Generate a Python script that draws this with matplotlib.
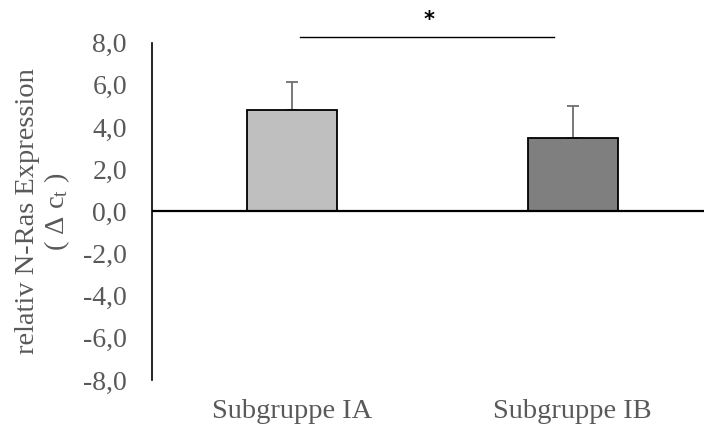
import matplotlib
matplotlib.use("Agg")
import matplotlib.pyplot as plt
import numpy as np

plt.rcParams['font.family'] = ['Liberation Serif', 'DejaVu Serif']
plt.rcParams['mathtext.fontset'] = 'custom'
plt.rcParams['mathtext.rm'] = 'Liberation Serif'
plt.rcParams['mathtext.it'] = 'Liberation Serif:italic'

groups = ['Subgruppe IA', 'Subgruppe IB']
means = [4.83, 3.50]
errors = [1.32, 1.49]
colors = ['#BFBFBF', '#7F7F7F']
yticks = [-8, -6, -4, -2, 0, 2, 4, 6, 8]

text_grey = '#595959'

fig = plt.figure(figsize=(7.04, 4.32), dpi=100)
ax = fig.add_axes([0.2159, 0.1204, 0.797, 0.7808])

x = np.arange(len(groups))
ax.bar(x, means, width=0.32, color=colors, edgecolor='black', linewidth=1.3, zorder=3)
ax.errorbar(x, means, yerr=[np.zeros(len(errors)), errors], fmt='none',
            ecolor='#6e6e6e', elinewidth=1.3, capsize=4, capthick=1.3, zorder=2)

# zero line across the plot
ax.axhline(0, color='black', linewidth=1.6, zorder=4)

ax.set_xlim(-0.5, 1.5)
ax.set_ylim(-8, 8)
ax.set_yticks(yticks)
ax.set_yticklabels(['{:.1f}'.format(v).replace('.', ',') for v in yticks])
ax.set_xticks(x)
ax.set_xticklabels(groups)

for s in ['top', 'right', 'bottom']:
    ax.spines[s].set_visible(False)
ax.spines['left'].set_linewidth(1.2)
ax.tick_params(axis='y', length=0, pad=18, labelsize=20, labelcolor=text_grey)
ax.tick_params(axis='x', length=0, pad=14, labelsize=20.5, labelcolor=text_grey)

ax.set_ylabel('relativ N-Ras Expression\n( Δ c$_\\mathregular{ t}$ )', fontsize=20.5,
              color=text_grey, linespacing=1.1, labelpad=8)

# significance bar
ax.plot([0.028, 0.933], [8.28, 8.28], color='black', linewidth=1.0, clip_on=False)
ax.text(0.4875, 9.08, '*', ha='center', va='center', fontsize=15,
        fontweight='bold', family='DejaVu Sans', clip_on=False)

fig.savefig('out.png', dpi=100)
